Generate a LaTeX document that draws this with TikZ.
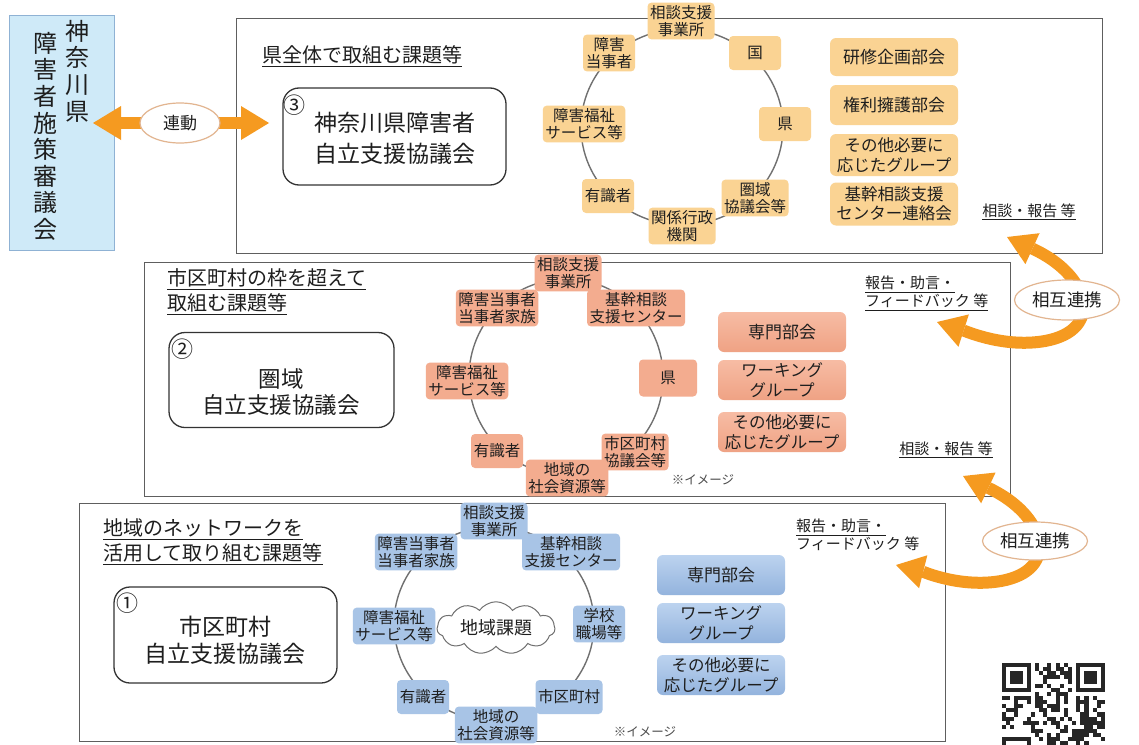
\documentclass[tikz,border=0pt]{standalone}
\usepackage{fontspec}
\setmainfont{Noto Sans CJK JP}
\usetikzlibrary{arrows.meta,shapes.geometric,shapes.symbols}
\definecolor{txt}{HTML}{1E1E1E}
\definecolor{boxgray}{HTML}{5E5E5E}
\definecolor{ringgray}{HTML}{707070}
\definecolor{panelfill}{HTML}{CFEAF8}
\definecolor{paneldraw}{HTML}{8FB2D4}
\definecolor{arrorange}{HTML}{F59A20}
\definecolor{elldraw}{HTML}{E2B590}
\definecolor{topfill}{HTML}{FAD393}
\definecolor{midfill}{HTML}{F3AC8F}
\definecolor{midtop}{HTML}{F7BCA4}
\definecolor{midbot}{HTML}{EFA284}
\definecolor{botfill}{HTML}{A8C4E6}
\definecolor{bottop}{HTML}{BCD3EF}
\definecolor{botbot}{HTML}{93B3DD}
\newcommand{\fs}[2]{\fontsize{#1}{#2}\selectfont}
\newcommand{\ulx}[1]{\mbox{\setbox0=\hbox{#1}\dimen0=\wd0\relax\rlap{\box0}\rule[-0.24em]{\dimen0}{0.06em}}}
\tikzset{
  panel/.style={draw=paneldraw, fill=panelfill, line width=1.2pt},
  vcol/.style={align=center, inner sep=0pt, font=\fs{24}{26.6}, text=txt},
  secbox/.style={draw=boxgray, line width=1.4pt, fill=white},
  council/.style={draw=black!80, line width=1.3pt, rounded corners=16pt, fill=white},
  bigtxt/.style={align=center, inner sep=0pt, text=txt},
  numtxt/.style={inner sep=0pt, font=\fs{22}{24}, text=txt},
  sectitle/.style={align=left, inner sep=0pt, font=\fs{20}{25}, text=txt},
  note/.style={align=left, inner sep=0pt, font=\fs{15}{18}, text=txt},
  small/.style={inner sep=0pt, font=\fs{12.5}{14}, text=black!70},
  ringline/.style={draw=ringgray, line width=1.4pt},
  ringnode/.style={rounded corners=4pt, inner sep=2.5pt, align=center, font=\fs{15.5}{17.5}, minimum width=52pt, minimum height=34pt, text=txt},
  ringO/.style={ringnode, fill=topfill},
  ringM/.style={ringnode, fill=midfill},
  ringB/.style={ringnode, fill=botfill},
  sidebox/.style={rounded corners=6pt, inner sep=2pt, align=center, font=\fs{17}{20}, minimum width=128pt, text=txt},
  sideO/.style={sidebox, fill=topfill},
  sideM/.style={sidebox, top color=midtop, bottom color=midbot},
  sideB/.style={sidebox, top color=bottop, bottom color=botbot},
  two/.style={font=\fs{16.5}{19.5}},
  bigarrow/.style={draw=arrorange, line width=12pt},
  tipboth/.style={{Triangle[width=34pt,length=28pt,line width=0pt]}-{Triangle[width=34pt,length=28pt,line width=0pt]}},
  linkell/.style={ellipse, draw=elldraw, line width=1.2pt, fill=white, inner sep=0pt, text=txt},
}
\begin{document}
\begin{tikzpicture}[x=1pt,y=-1pt]
\useasboundingbox (0,0) rectangle (1139,744);
\fill[white] (0,0) rectangle (1139,744);

% ---------- left panel ----------
\node[panel, anchor=north west, minimum width=105pt, minimum height=235pt] (panel) at (9,15) {};
\node[vcol, anchor=north] (kcol) at (77,20) {神\\奈\\川\\県};
\node[vcol, anchor=north] (scol) at (45,32) {障\\害\\者\\施\\策\\審\\議\\会};

% ---------- section frames ----------
\node[secbox, anchor=north west, minimum width=866pt, minimum height=235pt] (sec3) at (236,18) {};
\node[secbox, anchor=north west, minimum width=866pt, minimum height=234pt] (sec2) at (144,262) {};
\node[secbox, anchor=north west, minimum width=866pt, minimum height=238pt] (sec1) at (79,503) {};

% ---------- section 3 ----------
\node[sectitle, anchor=west] (t3) at (262,56) {\ulx{県全体で取組む課題等}};
\node[council, minimum width=223pt, minimum height=97pt] (c3) at (394.5,136.5) {};
\node[bigtxt, font=\fs{23}{31}] (c3t) at (395,138) {神奈川県障害者\\自立支援協議会};
\node[numtxt] (c3n) at (294,105) {③};

\draw[ringline] (682,127) ellipse [x radius=101, y radius=98];
\node[ringO] (r3a) at (681,21) {相談支援\\事業所};
\node[ringO] (r3b) at (609,53) {障害\\当事者};
\node[ringO] (r3c) at (755,53) {国};
\node[ringO] (r3d) at (584,124) {障害福祉\\サービス等};
\node[ringO] (r3e) at (785,124) {県};
\node[ringO] (r3f) at (608,196) {有識者};
\node[ringO] (r3g) at (755,198) {圏域\\協議会等};
\node[ringO] (r3h) at (682,226) {関係行政\\機関};

\node[sideO, minimum height=38pt] (s3a) at (894,57) {研修企画部会};
\node[sideO, minimum height=40pt] (s3b) at (894,105) {権利擁護部会};
\node[sideO, two, minimum height=42pt] (s3c) at (894,155) {その他必要に\\応じたグループ};
\node[sideO, two, minimum height=43pt] (s3d) at (894,204) {基幹相談支援\\センター連絡会};
\node[note] (n3) at (1029,212) {\ulx{相談・報告 等}};

% ---------- section 2 ----------
\node[sectitle, anchor=west] (t2) at (167,292) {\ulx{市区町村の枠を超えて}\\\ulx{取組む課題等}};
\node[council, minimum width=225pt, minimum height=95pt] (c2) at (281.5,380) {};
\node[bigtxt, font=\fs{22.5}{26}] (c2t) at (281,392) {圏域\\自立支援協議会};
\node[numtxt] (c2n) at (182,349) {②};

\draw[ringline] (566,377) ellipse [x radius=97, y radius=98];
\node[ringM] (r2a) at (568,273) {相談支援\\事業所};
\node[ringM] (r2b) at (497,308) {障害当事者\\当事者家族};
\node[ringM] (r2c) at (636,308) {基幹相談\\支援センター};
\node[ringM] (r2d) at (467,381) {障害福祉\\サービス等};
\node[ringM, minimum width=58pt, minimum height=37pt] (r2e) at (668,378) {県};
\node[ringM] (r2f) at (497,451) {有識者};
\node[ringM] (r2g) at (635,452) {市区町村\\協議会等};
\node[ringM] (r2h) at (567,478) {地域の\\社会資源等};

\node[sideM, minimum height=40pt] (s2a) at (782,332) {専門部会};
\node[sideM, two, minimum height=40pt] (s2b) at (782,380) {ワーキング\\グループ};
\node[sideM, two, minimum height=40pt] (s2c) at (782,432) {その他必要に\\応じたグループ};
\node[small] (im2) at (703,480) {※イメージ};
\node[note, anchor=north west] (n2a) at (865,276) {\ulx{報告・助言・}\\\ulx{フィードバック 等}};
\node[note] (n2b) at (946,450) {\ulx{相談・報告 等}};

% ---------- section 1 ----------
\node[sectitle, anchor=west] (t1) at (103,542) {\ulx{地域のネットワークを}\\\ulx{活用して取り組む課題等}};
\node[council, minimum width=223pt, minimum height=96pt] (c1) at (225.5,635) {};
\node[bigtxt, font=\fs{23}{27}] (c1t) at (225,640) {市区町村\\自立支援協議会};
\node[numtxt] (c1n) at (127,603) {①};

\draw[ringline] (494,624) ellipse [x radius=100, y radius=97];
\node[cloud, cloud puffs=11, cloud puff arc=110, aspect=2.6, draw=ringgray, line width=1pt, fill=white, minimum width=118pt, minimum height=46pt, inner sep=0pt, font=\fs{18}{20}, text=txt] (cloud) at (496,628) {地域課題};
\node[ringB] (r1a) at (494,521) {相談支援\\事業所};
\node[ringB] (r1b) at (416,552) {障害当事者\\当事者家族};
\node[ringB] (r1c) at (571,552) {基幹相談\\支援センター};
\node[ringB] (r1d) at (394,626) {障害福祉\\サービス等};
\node[ringB] (r1e) at (599,624) {学校\\職場等};
\node[ringB] (r1f) at (423,697) {有識者};
\node[ringB] (r1g) at (569,697) {市区町村};
\node[ringB] (r1h) at (496,725) {地域の\\社会資源等};

\node[sideB, minimum height=40pt] (s1a) at (721,575) {専門部会};
\node[sideB, two, minimum height=40pt] (s1b) at (721,623) {ワーキング\\グループ};
\node[sideB, two, minimum height=40pt] (s1c) at (721,675) {その他必要に\\応じたグループ};
\node[small] (im1) at (645,732) {※イメージ};
\node[note, anchor=north west] (n1a) at (796,519) {\ulx{報告・助言・}\\フィードバック 等};

% ---------- arrows ----------
\coordinate (la) at (93,123);
\coordinate (ra) at (269,123);
\draw[bigarrow, tipboth] (la) -- (ra);
\node[linkell, minimum width=80pt, minimum height=40pt, font=\fs{17}{19}] (rendo) at (180,123) {連動};

\coordinate (a3) at (1007,237);
\coordinate (b3) at (937,322);
\draw[bigarrow, tipboth] (a3) .. controls (1090,275) and (1105,330) .. (1045,341) .. controls (1005,348) and (968,332) .. (b3);
\node[linkell, minimum width=105pt, minimum height=40pt, font=\fs{17.5}{19}] (sogo3) at (1067,300) {相互連携};

\coordinate (a2) at (963,476);
\coordinate (b2) at (896,565);
\draw[bigarrow, tipboth] (a2) .. controls (1046,515) and (1061,570) .. (1001,581) .. controls (961,588) and (924,572) .. (b2);
\node[linkell, minimum width=105pt, minimum height=38pt, font=\fs{17.5}{19}] (sogo2) at (1035,541) {相互連携};

% ---------- QR code ----------
\begin{scope}
  \clip (990,650) rectangle (1139,744);
  \pgfmathsetseed{4242}
  \foreach \i in {0,...,24}{
    \foreach \j in {0,...,24}{
      \pgfmathrandominteger{\qr}{0}{1}
      \ifnum\qr=1 \fill[black!85] ({1002+\i*4.12},{663+\j*4.12}) rectangle ++(4.12,4.12); \fi
    }
  }
  \foreach \fx/\fy in {0/0,18/0,0/18}{
    \pgfmathsetmacro{\X}{1002+\fx*4.12}
    \pgfmathsetmacro{\Y}{663+\fy*4.12}
    \fill[white] ({\X-4.12},{\Y-4.12}) rectangle ++(37.08,37.08);
    \fill[black!85] (\X,\Y) rectangle ++(28.84,28.84);
    \fill[white] ({\X+4.12},{\Y+4.12}) rectangle ++(20.6,20.6);
    \fill[black!85] ({\X+8.24},{\Y+8.24}) rectangle ++(12.36,12.36);
  }
\end{scope}
\end{tikzpicture}
\end{document}
